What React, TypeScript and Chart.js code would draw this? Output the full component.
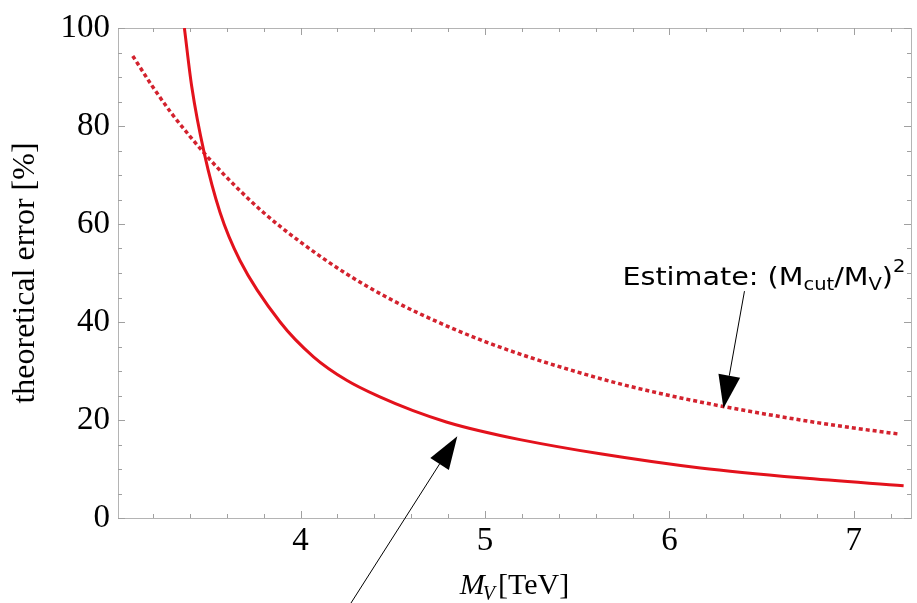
import React, { useEffect, useRef } from "react";
import { Chart, registerables } from "chart.js";

Chart.register(...registerables);

// Solid curve (computed theoretical error)
const solidX = [3.37, 3.41, 3.478, 3.563, 3.672, 3.889, 4.07, 4.25, 4.43, 4.61, 4.79, 4.97, 5.19, 5.625, 6.168, 6.71, 7.27];
const solidY = [100, 88, 74.4, 62.4, 52.5, 40.0, 32.9, 28.1, 24.7, 21.9, 19.6, 17.8, 16.0, 13.1, 10.2, 8.2, 6.6];

// Dotted curve (estimate)
const dashedX = [3.09, 3.20, 3.30, 3.40, 3.50, 3.65, 3.80, 4.00, 4.25, 4.50, 4.75, 5.00, 5.25, 5.50, 5.75, 6.00, 6.30, 6.60, 6.90, 7.25];
const dashedY = [94.3, 87.9, 82.6, 77.9, 73.5, 67.6, 62.3, 56.3, 49.8, 44.4, 39.9, 36.0, 32.7, 29.8, 27.2, 25.0, 22.7, 20.7, 18.9, 17.1];

const xMajorTicks = [4, 5, 6, 7];
const yMajorTicks = [0, 20, 40, 60, 80, 100];
const xMinorStep = 0.2;
const yMinorStep = 5;

const X_MIN = 3.01;
const X_MAX = 7.31;

const yAxisTitle = "theoretical error [%]";

// annotation anchors in data units
const estimateTextPos = { x: 5.745, y: 47.6 };
const estimateTextWidth = 283;
const arrow1 = { from: { x: 6.407, y: 46.3 }, to: { x: 6.293, y: 22.4 } };
const arrow2 = { from: { x: 4.242, y: -19.2 }, to: { x: 4.85, y: 16.7 } };

function drawArrow(ctx: CanvasRenderingContext2D, x1: number, y1: number, x2: number, y2: number) {
  const headLen = 33;
  const headW = 11;
  const ang = Math.atan2(y2 - y1, x2 - x1);
  const bx = x2 - headLen * Math.cos(ang);
  const by = y2 - headLen * Math.sin(ang);
  ctx.save();
  ctx.strokeStyle = "#000";
  ctx.lineWidth = 1;
  ctx.beginPath();
  ctx.moveTo(x1, y1);
  ctx.lineTo(bx, by);
  ctx.stroke();
  ctx.fillStyle = "#000";
  ctx.beginPath();
  ctx.moveTo(x2, y2);
  ctx.lineTo(bx + headW * Math.sin(ang), by - headW * Math.cos(ang));
  ctx.lineTo(bx - headW * Math.sin(ang), by + headW * Math.cos(ang));
  ctx.closePath();
  ctx.fill();
  ctx.restore();
}

const framePlugin = {
  id: "frameTicks",
  beforeDatasetsDraw(chart: any) {
    const { ctx, chartArea: a, scales } = chart;
    const xs = scales.x;
    const ys = scales.y;
    ctx.save();
    ctx.strokeStyle = "#b4b4b4";
    ctx.lineWidth = 1;
    ctx.strokeRect(Math.round(a.left) + 0.5, Math.round(a.top) + 0.5, Math.round(a.right - a.left), Math.round(a.bottom - a.top));
    ctx.strokeStyle = "#a0a0a0";
    ctx.beginPath();
    for (let v = Math.ceil(X_MIN / xMinorStep) * xMinorStep; v <= X_MAX + 1e-9; v += xMinorStep) {
      const vv = Math.round(v * 10) / 10;
      const major = xMajorTicks.some((t) => Math.abs(t - vv) < 1e-6);
      const len = major ? 7 : 4;
      const px = Math.round(xs.getPixelForValue(vv)) + 0.5;
      ctx.moveTo(px, a.bottom);
      ctx.lineTo(px, a.bottom - len);
      ctx.moveTo(px, a.top);
      ctx.lineTo(px, a.top + len);
    }
    for (let v = 0; v <= 100; v += yMinorStep) {
      const major = yMajorTicks.includes(v);
      const len = major ? 7 : 4;
      const py = Math.round(ys.getPixelForValue(v)) + 0.5;
      ctx.moveTo(a.left, py);
      ctx.lineTo(a.left + len, py);
      ctx.moveTo(a.right, py);
      ctx.lineTo(a.right - len, py);
    }
    ctx.stroke();
    ctx.restore();
  },
  afterDraw(chart: any) {
    const { ctx, chartArea: a, scales } = chart;
    const xs = scales.x;
    const ys = scales.y;
    ctx.save();
    // x-axis title: M_V [TeV]
    const mainFont = "30px 'Liberation Serif', serif";
    const itFont = "italic 30px 'Liberation Serif', serif";
    const subFont = "italic 20px 'Liberation Serif', serif";
    ctx.fillStyle = "#000";
    ctx.textBaseline = "alphabetic";
    ctx.font = itFont;
    const wM = ctx.measureText("M").width;
    ctx.font = subFont;
    const wV = ctx.measureText("V").width;
    ctx.font = mainFont;
    const wT = ctx.measureText("[TeV]").width;
    const total = wM + wV + 1 + wT;
    let x0 = (a.left + a.right) / 2 - total / 2;
    const base = 594;
    ctx.font = itFont;
    ctx.fillText("M", x0, base);
    x0 += wM;
    ctx.font = subFont;
    ctx.fillText("V", x0 - 2, base + 6);
    x0 += wV + 1;
    ctx.font = mainFont;
    ctx.fillText("[TeV]", x0, base);

    // Estimate text, stretched to the reference width
    const tFont = "25px 'DejaVu Sans', sans-serif";
    const sFont = "17px 'DejaVu Sans', sans-serif";
    const parts: [string, string, number][] = [
      ["Estimate: (M", tFont, 0],
      ["cut", sFont, 5],
      ["/M", tFont, 0],
      ["V", sFont, 5],
      [")", tFont, 0],
      ["2", sFont, -13],
    ];
    let tw = 0;
    for (const [s, f] of parts) {
      ctx.font = f;
      tw += ctx.measureText(s).width;
    }
    const sx = estimateTextWidth / tw;
    const tx0 = xs.getPixelForValue(estimateTextPos.x);
    const ty = ys.getPixelForValue(estimateTextPos.y);
    ctx.save();
    ctx.translate(tx0, ty);
    ctx.scale(sx, 1);
    let tx = 0;
    for (const [s, f, dy] of parts) {
      ctx.font = f;
      ctx.fillText(s, tx, dy);
      tx += ctx.measureText(s).width;
    }
    ctx.restore();

    drawArrow(ctx, xs.getPixelForValue(arrow1.from.x), ys.getPixelForValue(arrow1.from.y), xs.getPixelForValue(arrow1.to.x), ys.getPixelForValue(arrow1.to.y));
    drawArrow(ctx, xs.getPixelForValue(arrow2.from.x), ys.getPixelForValue(arrow2.from.y), xs.getPixelForValue(arrow2.to.x), ys.getPixelForValue(arrow2.to.y));
    ctx.restore();
  },
};

export default function App() {
  const ref = useRef<HTMLCanvasElement | null>(null);
  useEffect(() => {
    if (!ref.current) return;
    const chart = new Chart(ref.current, {
      type: "scatter",
      data: {
        datasets: [
          {
            label: "full",
            data: solidX.map((x, i) => ({ x, y: solidY[i] })),
            showLine: true,
            borderColor: "#e3121c",
            borderWidth: 3,
            pointRadius: 0,
            cubicInterpolationMode: "monotone",
            fill: false,
          },
          {
            label: "estimate",
            data: dashedX.map((x, i) => ({ x, y: dashedY[i] })),
            showLine: true,
            borderColor: "#d3222e",
            borderWidth: 3.5,
            borderDash: [4, 3],
            pointRadius: 0,
            cubicInterpolationMode: "monotone",
            fill: false,
          },
        ],
      },
      options: {
        responsive: false,
        animation: false,
        layout: { padding: { top: 28, right: 6, left: 0, bottom: 0 } },
        plugins: { legend: { display: false }, tooltip: { enabled: false } },
        scales: {
          x: {
            type: "linear",
            min: X_MIN,
            max: X_MAX,
            grid: { display: false, drawTicks: false },
            border: { display: false },
            afterBuildTicks: (scale: any) => {
              scale.ticks = xMajorTicks.map((v) => ({ value: v }));
            },
            afterFit: (scale: any) => {
              scale.height = 85;
            },
            ticks: {
              color: "#000",
              font: { family: "'Liberation Serif', serif", size: 33 },
              padding: 4,
              maxRotation: 0,
              autoSkip: false,
            },
          },
          y: {
            min: 0,
            max: 100,
            grid: { display: false, drawTicks: false },
            border: { display: false },
            afterBuildTicks: (scale: any) => {
              scale.ticks = yMajorTicks.map((v) => ({ value: v }));
            },
            afterFit: (scale: any) => {
              scale.width = 118;
            },
            ticks: {
              color: "#000",
              font: { family: "'Liberation Serif', serif", size: 33 },
              padding: 8,
            },
            title: {
              display: true,
              text: yAxisTitle,
              color: "#000",
              font: { family: "'Liberation Serif', serif", size: 32 },
              padding: { top: 6, bottom: 0 },
            },
          },
        },
      },
      plugins: [framePlugin],
    } as any);
    return () => chart.destroy();
  }, []);
  return (
    <div style={{ position: "fixed", left: 0, top: 0, width: 917, height: 603, background: "#fff" }}>
      <canvas ref={ref} width={917} height={603} style={{ display: "block" }} />
    </div>
  );
}
